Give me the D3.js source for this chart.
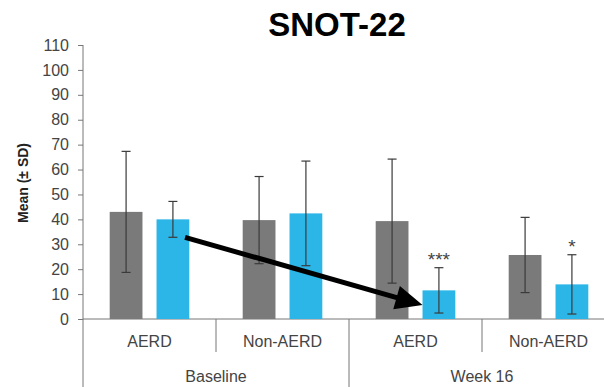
<!DOCTYPE html>
<html><head><meta charset="utf-8">
<script src="https://cdn.jsdelivr.net/npm/d3@7"></script>
<style>body{margin:0;background:#fff}svg{display:block}text{font-family:"Liberation Sans",Arial,sans-serif}</style>
</head><body><svg id="c" width="604" height="387"></svg>
<script>
const timepoints = ["Baseline", "Week 16"];
const subgroups = ["AERD", "Non-AERD"];
const series = ["Placebo", "Dupilumab"];
const placeboMean = [43.0, 39.7, 39.3, 25.7];
const placeboSD   = [24.3, 17.5, 24.9, 15.1];
const dupiMean    = [40.0, 42.4, 11.5, 13.9];
const dupiSD      = [7.2, 21.0, 9.1, 11.9];
const dupiSig     = ["", "", "***", "*"];
const yTicks = [0,10,20,30,40,50,60,70,80,90,100,110];
const arrowFromValue = 32.8;   // baseline AERD dupilumab lower SD
const arrowToValue = 5.6;

const groups = [];
timepoints.forEach(t => subgroups.forEach(s => groups.push(t + "|" + s)));

const svg = d3.select("#c");
const y = d3.scaleLinear().domain([0,110]).range([319,45]);
const x0 = d3.scaleBand().domain(groups).range([83,615]);
const x1 = d3.scaleBand().domain(series).range([0, x0.bandwidth()]).paddingInner(0.3).paddingOuter(0.57);
const colors = {Placebo:"#7a7a7a", Dupilumab:"#2cb6e8"};

// title
svg.append("text").attr("x",337).attr("y",36).attr("text-anchor","middle")
  .attr("font-size",33).attr("font-weight","bold").attr("fill","#000").text("SNOT-22");

// y label
svg.append("text").attr("transform","translate(28,183) rotate(-90)").attr("text-anchor","middle")
  .attr("font-size",14).attr("font-weight","bold").attr("fill","#222").text("Mean (\u00b1 SD)");

// y axis
const yAxis = svg.append("g").attr("transform","translate(83,0)")
  .call(d3.axisLeft(y).tickValues(yTicks).tickSize(5).tickPadding(9));
yAxis.select(".domain").remove();
yAxis.selectAll(".tick line").attr("stroke","#777");
yAxis.selectAll(".tick text").attr("font-size",16).attr("fill","#444")
  .attr("font-family","'Liberation Sans',Arial,sans-serif");
svg.append("line").attr("x1",83).attr("x2",83).attr("y1",y(110)).attr("y2",387).attr("stroke","#777");

// x axis baseline
svg.append("line").attr("x1",83).attr("x2",604).attr("y1",y(0)).attr("y2",y(0)).attr("stroke","#777");

// separators
groups.forEach((g,i) => {
  if (i === 0) return;
  const xs = x0(g);
  const full = (i % subgroups.length === 0);
  svg.append("line").attr("x1",xs).attr("x2",xs).attr("y1",y(0)).attr("y2", full ? 387 : 352).attr("stroke","#777");
});

// subgroup labels
groups.forEach(g => {
  svg.append("text").attr("x", x0(g) + x0.bandwidth()/2).attr("y",347).attr("text-anchor","middle")
    .attr("font-size",16).attr("fill","#444").text(g.split("|")[1]);
});
// timepoint labels
timepoints.forEach(t => {
  const a = x0(t + "|" + subgroups[0]);
  const b = x0(t + "|" + subgroups[subgroups.length-1]) + x0.bandwidth();
  svg.append("text").attr("x",(a+b)/2).attr("y",382).attr("text-anchor","middle")
    .attr("font-size",16).attr("fill","#444").text(t);
});

// bars
const rows = [];
groups.forEach((g,i) => {
  rows.push({g, s:"Placebo", m:placeboMean[i], sd:placeboSD[i], sig:""});
  rows.push({g, s:"Dupilumab", m:dupiMean[i], sd:dupiSD[i], sig:dupiSig[i]});
});
const bw = x1.bandwidth();
svg.selectAll("rect.bar").data(rows).enter().append("rect").attr("class","bar")
  .attr("x", d => x0(d.g) + x1(d.s)).attr("width", bw)
  .attr("y", d => y(d.m)).attr("height", d => y(0) - y(d.m))
  .attr("fill", d => colors[d.s]);

// error bars
rows.forEach(d => {
  const cx = x0(d.g) + x1(d.s) + bw/2;
  const top = y(d.m + d.sd), bot = y(Math.max(0, d.m - d.sd));
  const e = svg.append("g").attr("stroke","#3a3a3a").attr("stroke-width",1.2);
  e.append("line").attr("x1",cx).attr("x2",cx).attr("y1",top).attr("y2",bot);
  e.append("line").attr("x1",cx-4.5).attr("x2",cx+4.5).attr("y1",top).attr("y2",top);
  e.append("line").attr("x1",cx-4.5).attr("x2",cx+4.5).attr("y1",bot).attr("y2",bot);
  if (d.sig) {
    svg.append("text").attr("x",cx).attr("y",top - 1.5).attr("text-anchor","middle")
      .attr("font-size",19).attr("fill","#444").text(d.sig);
  }
});

// arrow
const xa = x0(groups[0]) + x1("Dupilumab") + bw*0.87;
const ya = y(arrowFromValue);
const xb = x0(groups[2]) + x1("Dupilumab");
const yb = y(arrowToValue);
const ang = Math.atan2(yb-ya, xb-xa);
const headLen = 27, headHalf = 12;
const bx = xb - headLen*Math.cos(ang), by = yb - headLen*Math.sin(ang);
svg.append("line").attr("x1",xa).attr("y1",ya).attr("x2",bx + 2*Math.cos(ang)).attr("y2",by + 2*Math.sin(ang))
  .attr("stroke","#000").attr("stroke-width",5);
const px = -Math.sin(ang), py = Math.cos(ang);
svg.append("path").attr("d", `M${xb},${yb} L${bx+px*headHalf},${by+py*headHalf} L${bx-px*headHalf},${by-py*headHalf} Z`)
  .attr("fill","#000");
</script></body></html>
